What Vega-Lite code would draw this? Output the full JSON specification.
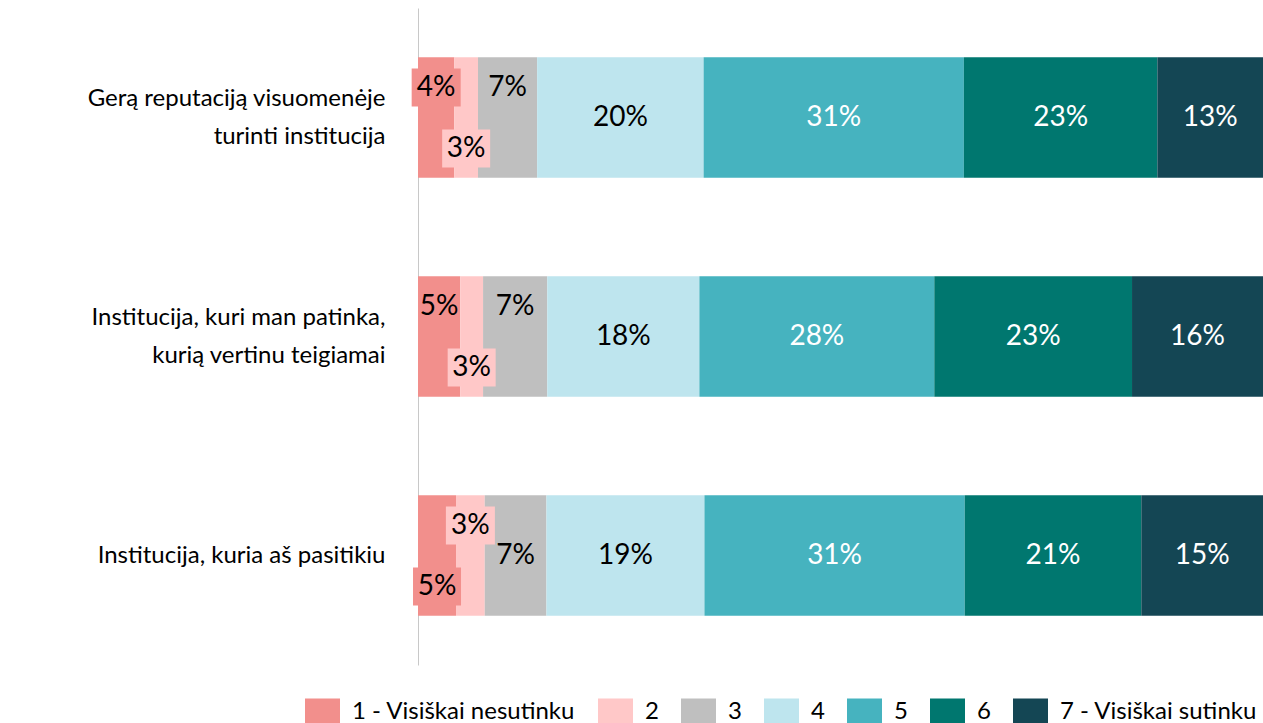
{
  "$schema": "https://vega.github.io/schema/vega-lite/v6.json",
  "width": 845,
  "height": 657,
  "autosize": {"type": "none"},
  "padding": {"left": 418, "top": 8, "right": 0, "bottom": 58},
  "config": {"view": {"stroke": null}, "font": "Lato"},
  "data": {
    "values": [
      {"g": 1, "cat": "Gerą reputaciją visuomenėje turinti institucija", "seg": 1, "resp": "1 - Visiškai nesutinku", "v": 4.3, "lab": "4%"},
      {"g": 1, "cat": "Gerą reputaciją visuomenėje turinti institucija", "seg": 2, "resp": "2", "v": 2.8, "lab": "3%"},
      {"g": 1, "cat": "Gerą reputaciją visuomenėje turinti institucija", "seg": 3, "resp": "3", "v": 7.0, "lab": "7%"},
      {"g": 1, "cat": "Gerą reputaciją visuomenėje turinti institucija", "seg": 4, "resp": "4", "v": 19.7, "lab": "20%"},
      {"g": 1, "cat": "Gerą reputaciją visuomenėje turinti institucija", "seg": 5, "resp": "5", "v": 30.8, "lab": "31%"},
      {"g": 1, "cat": "Gerą reputaciją visuomenėje turinti institucija", "seg": 6, "resp": "6", "v": 22.9, "lab": "23%"},
      {"g": 1, "cat": "Gerą reputaciją visuomenėje turinti institucija", "seg": 7, "resp": "7 - Visiškai sutinku", "v": 12.5, "lab": "13%"},
      {"g": 2, "cat": "Institucija, kuri man patinka, kurią vertinu teigiamai", "seg": 1, "resp": "1 - Visiškai nesutinku", "v": 5.0, "lab": "5%"},
      {"g": 2, "cat": "Institucija, kuri man patinka, kurią vertinu teigiamai", "seg": 2, "resp": "2", "v": 2.7, "lab": "3%"},
      {"g": 2, "cat": "Institucija, kuri man patinka, kurią vertinu teigiamai", "seg": 3, "resp": "3", "v": 7.6, "lab": "7%"},
      {"g": 2, "cat": "Institucija, kuri man patinka, kurią vertinu teigiamai", "seg": 4, "resp": "4", "v": 18.0, "lab": "18%"},
      {"g": 2, "cat": "Institucija, kuri man patinka, kurią vertinu teigiamai", "seg": 5, "resp": "5", "v": 27.8, "lab": "28%"},
      {"g": 2, "cat": "Institucija, kuri man patinka, kurią vertinu teigiamai", "seg": 6, "resp": "6", "v": 23.4, "lab": "23%"},
      {"g": 2, "cat": "Institucija, kuri man patinka, kurią vertinu teigiamai", "seg": 7, "resp": "7 - Visiškai sutinku", "v": 15.5, "lab": "16%"},
      {"g": 3, "cat": "Institucija, kuria aš pasitikiu", "seg": 1, "resp": "1 - Visiškai nesutinku", "v": 4.5, "lab": "5%"},
      {"g": 3, "cat": "Institucija, kuria aš pasitikiu", "seg": 2, "resp": "2", "v": 3.4, "lab": "3%"},
      {"g": 3, "cat": "Institucija, kuria aš pasitikiu", "seg": 3, "resp": "3", "v": 7.3, "lab": "7%"},
      {"g": 3, "cat": "Institucija, kuria aš pasitikiu", "seg": 4, "resp": "4", "v": 18.7, "lab": "19%"},
      {"g": 3, "cat": "Institucija, kuria aš pasitikiu", "seg": 5, "resp": "5", "v": 30.8, "lab": "31%"},
      {"g": 3, "cat": "Institucija, kuria aš pasitikiu", "seg": 6, "resp": "6", "v": 20.9, "lab": "21%"},
      {"g": 3, "cat": "Institucija, kuria aš pasitikiu", "seg": 7, "resp": "7 - Visiškai sutinku", "v": 14.4, "lab": "15%"}
    ]
  },
  "encoding": {
    "y": {
      "field": "cat",
      "type": "nominal",
      "sort": null,
      "title": null,
      "scale": {"paddingInner": 0.45, "paddingOuter": 0.225},
      "axis": {
        "ticks": false,
        "domainColor": "#C8C8C8",
        "domainWidth": 1,
        "labelFontSize": 24,
        "labelColor": "#000000",
        "labelPadding": 33,
        "labelLimit": 420,
        "labelLineHeight": 38,
        "labelAlign": "right",
        "labelBaseline": {"condition": {"test": "datum.value == 'Institucija, kuria aš pasitikiu'", "value": "middle"}, "value": "line-bottom"},
        "labelExpr": "datum.value == 'Gerą reputaciją visuomenėje turinti institucija' ? ['Gerą reputaciją visuomenėje', 'turinti institucija'] : datum.value == 'Institucija, kuri man patinka, kurią vertinu teigiamai' ? ['Institucija, kuri man patinka,', 'kurią vertinu teigiamai'] : datum.value"
      }
    }
  },
  "layer": [
    {
      "mark": {"type": "bar"},
      "encoding": {
        "x": {"field": "v", "type": "quantitative", "stack": "zero", "scale": {"domain": [0, 100], "nice": false}, "axis": null},
        "color": {
          "field": "resp",
          "type": "nominal",
          "scale": {
            "domain": ["1 - Visiškai nesutinku", "2", "3", "4", "5", "6", "7 - Visiškai sutinku"],
            "range": ["#F28F8C", "#FFC8C8", "#BFBFBF", "#BEE5EE", "#46B3BF", "#00776F", "#144654"]
          },
          "legend": {
            "orient": "none",
            "legendX": -113,
            "legendY": 686,
            "direction": "horizontal",
            "columns": 7,
            "title": null,
            "symbolType": "M-1,-0.75H1V0.75H-1Z",
            "symbolSize": 1225,
            "symbolStrokeWidth": 0,
            "symbolOpacity": 1,
            "labelFontSize": 24,
            "labelColor": "#000000",
            "labelOffset": 12,
            "columnPadding": 22,
            "labelLimit": 300
          }
        },
        "order": {"field": "seg", "type": "quantitative"}
      }
    },
    {
      "mark": {"type": "point", "filled": true, "shape": "M-0.98,-1.96H0.98V-0.44H-0.98Z", "size": 2500, "strokeWidth": 0},
      "encoding": {
        "x": {"field": "v", "type": "quantitative", "stack": "zero", "bandPosition": 0.5},
        "color": {"field": "resp", "type": "nominal"},
        "order": {"field": "seg", "type": "quantitative"},
        "opacity": {"condition": {"test": "(datum.g == 1 && datum.seg == 1) || (datum.g == 3 && datum.seg == 2)", "value": 1}, "value": 0}
      }
    },
    {
      "mark": {"type": "point", "filled": true, "shape": "M-0.96,0.48H0.96V2H-0.96Z", "size": 2500, "strokeWidth": 0},
      "encoding": {
        "x": {"field": "v", "type": "quantitative", "stack": "zero", "bandPosition": 0.5},
        "color": {"field": "resp", "type": "nominal"},
        "order": {"field": "seg", "type": "quantitative"},
        "opacity": {"condition": {"test": "(datum.g == 1 && datum.seg == 2) || (datum.g == 2 && datum.seg == 2) || (datum.g == 3 && datum.seg == 1)", "value": 1}, "value": 0}
      }
    },
    {
      "mark": {"type": "text", "fontSize": 28, "dy": -30, "baseline": "middle"},
      "encoding": {
        "x": {"field": "v", "type": "quantitative", "stack": "zero", "bandPosition": 0.5},
        "detail": {"field": "resp"},
        "order": {"field": "seg", "type": "quantitative"},
        "text": {"condition": {"test": "(datum.g == 1 && (datum.seg == 1 || datum.seg == 3)) || (datum.g == 2 && (datum.seg == 1 || datum.seg == 3)) || (datum.g == 3 && datum.seg == 2)", "field": "lab"}, "value": ""},
        "color": {"value": "#000000"}
      }
    },
    {
      "mark": {"type": "text", "fontSize": 28, "dy": 31, "baseline": "middle"},
      "encoding": {
        "x": {"field": "v", "type": "quantitative", "stack": "zero", "bandPosition": 0.5},
        "detail": {"field": "resp"},
        "order": {"field": "seg", "type": "quantitative"},
        "text": {"condition": {"test": "(datum.g == 1 && datum.seg == 2) || (datum.g == 2 && datum.seg == 2) || (datum.g == 3 && datum.seg == 1)", "field": "lab"}, "value": ""},
        "color": {"value": "#000000"}
      }
    },
    {
      "mark": {"type": "text", "fontSize": 28, "baseline": "middle"},
      "encoding": {
        "x": {"field": "v", "type": "quantitative", "stack": "zero", "bandPosition": 0.5},
        "detail": {"field": "resp"},
        "order": {"field": "seg", "type": "quantitative"},
        "text": {"condition": {"test": "datum.seg >= 4 || (datum.g == 3 && datum.seg == 3)", "field": "lab"}, "value": ""},
        "color": {"condition": {"test": "datum.seg >= 5", "value": "#FFFFFF"}, "value": "#000000"}
      }
    }
  ]
}
